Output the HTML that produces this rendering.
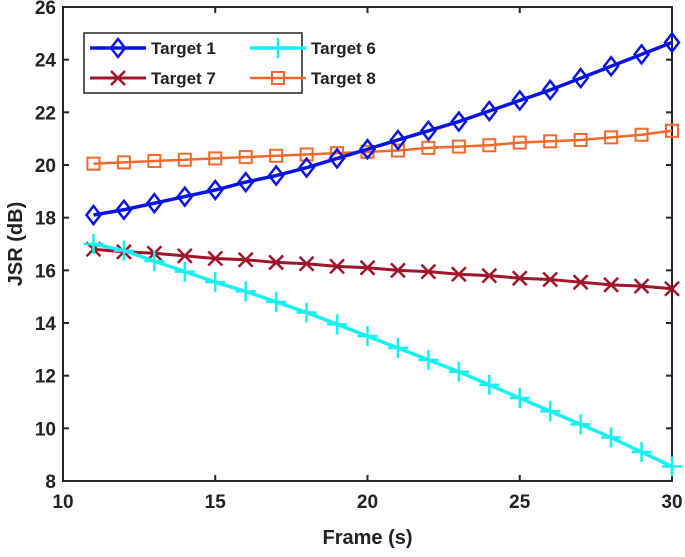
<!DOCTYPE html>
<html><head><meta charset="utf-8"><style>
html,body{margin:0;padding:0;background:#fff;}
svg text{font-family:"Liberation Sans",Arial,sans-serif;font-weight:bold;fill:#222;}
</style></head><body>
<svg id="chart" width="685" height="552" xmlns="http://www.w3.org/2000/svg"></svg>
<script>
const frames=[11,12,13,14,15,16,17,18,19,20,21,22,23,24,25,26,27,28,29,30];
const target1=[18.1,18.3,18.55,18.8,19.05,19.35,19.6,19.9,20.25,20.6,20.95,21.3,21.65,22.05,22.45,22.85,23.3,23.75,24.2,24.65];
const target6=[17.0,16.75,16.35,15.95,15.55,15.2,14.8,14.4,13.95,13.5,13.05,12.6,12.15,11.65,11.15,10.65,10.15,9.65,9.1,8.55];
const target7=[16.8,16.7,16.65,16.55,16.45,16.4,16.3,16.25,16.15,16.1,16.0,15.95,15.85,15.8,15.7,15.65,15.55,15.45,15.4,15.3];
const target8=[20.05,20.1,20.15,20.2,20.25,20.3,20.35,20.4,20.45,20.5,20.55,20.65,20.7,20.75,20.85,20.9,20.95,21.05,21.15,21.3];
const xTicks=[10,15,20,25,30];
const yTicks=[8,10,12,14,16,18,20,22,24,26];
const L=63,R=672,T=7,B=481;
const X=v=>L+(v-10)/20*(R-L);
const Y=v=>B-(v-8)/18*(B-T);
const svg=document.getElementById('chart');
const NS='http://www.w3.org/2000/svg';
function mk(tag,attrs,parent){const e=document.createElementNS(NS,tag);for(const k in attrs)e.setAttribute(k,attrs[k]);(parent||svg).appendChild(e);return e;}
let ax=mk('rect',{x:L,y:T,width:R-L,height:B-T,fill:'none',stroke:'#262626','stroke-width':2});


xTicks.forEach(t=>{
  mk('line',{x1:X(t),x2:X(t),y1:B,y2:B-6,stroke:'#262626','stroke-width':2});
  mk('line',{x1:X(t),x2:X(t),y1:T,y2:T+6,stroke:'#262626','stroke-width':2});
  const tx=mk('text',{x:X(t),y:B+27,'text-anchor':'middle','font-size':19});tx.textContent=t;
  
  
});
yTicks.forEach(t=>{
  mk('line',{x1:L,x2:L+6,y1:Y(t),y2:Y(t),stroke:'#262626','stroke-width':2});
  mk('line',{x1:R,x2:R-6,y1:Y(t),y2:Y(t),stroke:'#262626','stroke-width':2});
  const ty=mk('text',{x:L-7,y:Y(t)+7,'text-anchor':'end','font-size':19});ty.textContent=t;
  
  
});
let xt=mk('text',{x:X(20),y:544,'text-anchor':'middle','font-size':20});xt.textContent='Frame (s)';


let yt=mk('text',{x:0,y:0,'text-anchor':'middle','font-size':20,transform:`translate(22,${(T+B)/2}) rotate(-90)`});yt.textContent='JSR (dB)';


function marker(kind,cx,cy,color,g){
  if(kind==='diamond')mk('path',{d:`M${cx},${cy-9}L${cx+7},${cy}L${cx},${cy+9}L${cx-7},${cy}Z`,fill:'none',stroke:color,'stroke-width':2.5},g);
  else if(kind==='plus')mk('path',{d:`M${cx-10},${cy}H${cx+10}M${cx},${cy-10}V${cy+10}`,stroke:color,'stroke-width':2.5},g);
  else if(kind==='x')mk('path',{d:`M${cx-7},${cy-7}L${cx+7},${cy+7}M${cx-7},${cy+7}L${cx+7},${cy-7}`,stroke:color,'stroke-width':2.5},g);
  else mk('rect',{x:cx-6,y:cy-6,width:12,height:12,fill:'none',stroke:color,'stroke-width':2},g);
}
const series=[
 {vals:target8,color:'#F4692B',kind:'square',w:2.5,name:'series-target-8'},
 {vals:target7,color:'#A0152A',kind:'x',w:3,name:'series-target-7'},
 {vals:target6,color:'#17F0F0',kind:'plus',w:3.5,name:'series-target-6'},
 {vals:target1,color:'#0A14E0',kind:'diamond',w:3.5,name:'series-target-1'}
];
series.forEach(s=>{
  const g=mk('g',{});
  
  
  mk('polyline',{points:s.vals.map((v,i)=>X(frames[i])+','+Y(v)).join(' '),fill:'none',stroke:s.color,'stroke-width':s.w},g);
  s.vals.forEach((v,i)=>marker(s.kind,X(frames[i]),Y(v),s.color,g));
});
const lg=mk('g',{});


mk('rect',{x:84,y:33,width:218,height:60,fill:'#fff',stroke:'#262626','stroke-width':1.5},lg);
const entries=[
 {label:'Target 1',color:'#0A14E0',kind:'diamond',x:90,y:48,w:3.5},
 {label:'Target 6',color:'#17F0F0',kind:'plus',x:250,y:48,w:3.5},
 {label:'Target 7',color:'#A0152A',kind:'x',x:90,y:78,w:3},
 {label:'Target 8',color:'#F4692B',kind:'square',x:250,y:78,w:2.5}
];
entries.forEach(e=>{
  const g=mk('g',{},lg);
  
  
  mk('line',{x1:e.x,x2:e.x+56,y1:e.y,y2:e.y,stroke:e.color,'stroke-width':e.w},g);
  marker(e.kind,e.x+28,e.y,e.color,g);
  const t=mk('text',{x:e.x+61,y:e.y+6,'font-size':17,fill:'#000'},g);t.textContent=e.label;
});
</script>
</body></html>
